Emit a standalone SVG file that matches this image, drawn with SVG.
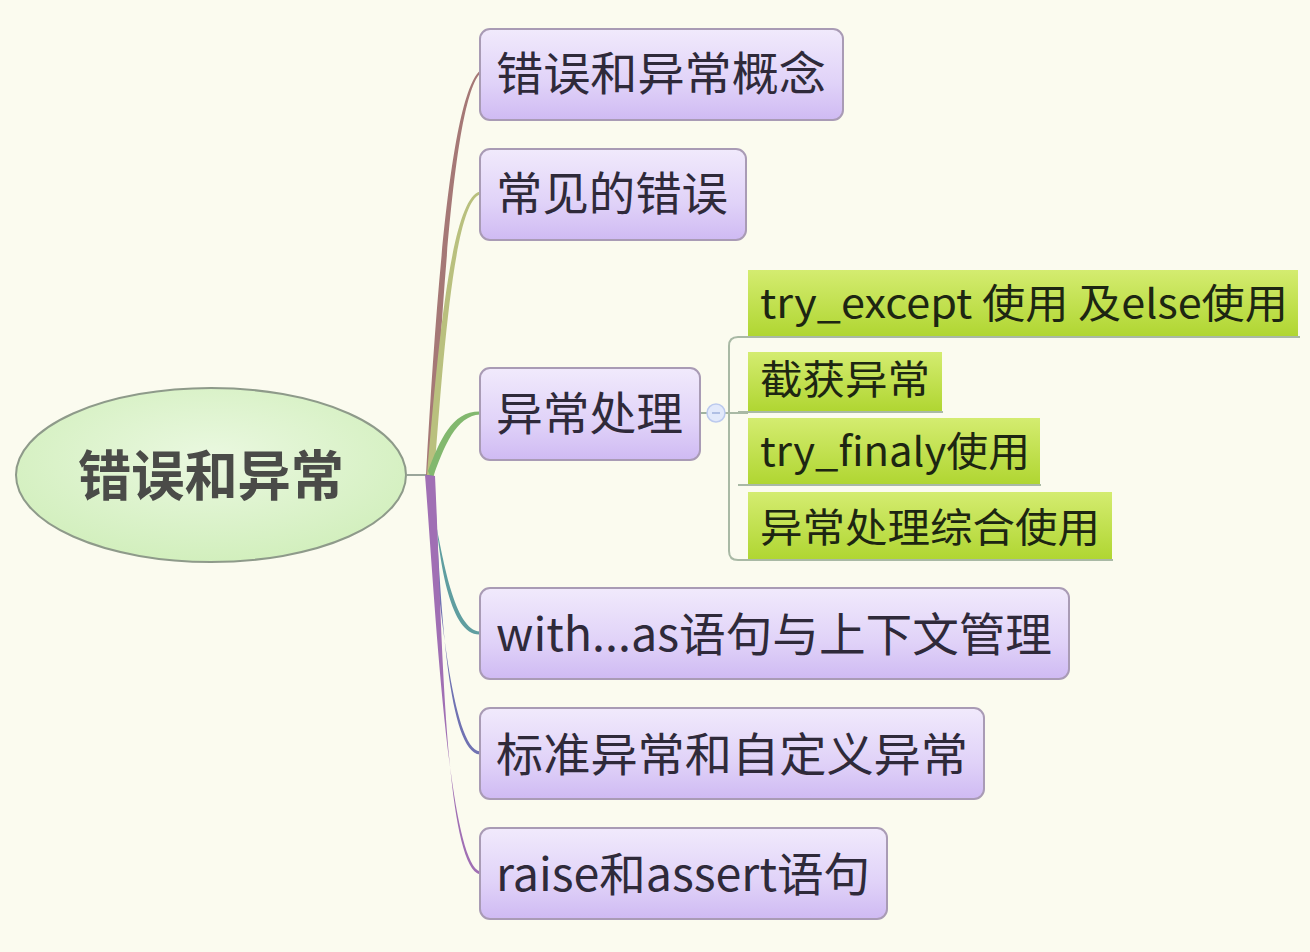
<svg xmlns="http://www.w3.org/2000/svg" width="1310" height="952" viewBox="0 0 1310 952">
<defs>
<linearGradient id="gP" x1="0" y1="0" x2="0" y2="1"><stop offset="0" stop-color="#f1eafc"/><stop offset="0.6" stop-color="#e0d2f8"/><stop offset="1" stop-color="#cfbaf3"/></linearGradient>
<linearGradient id="gG" x1="0" y1="0" x2="0" y2="1"><stop offset="0" stop-color="#d4ec70"/><stop offset="1" stop-color="#b0d632"/></linearGradient>
<radialGradient id="gC" cx="0.5" cy="0.4" r="0.6"><stop offset="0" stop-color="#eaf8e0"/><stop offset="1" stop-color="#d2efbd"/></radialGradient>
<style>
.pbox{fill:url(#gP);stroke:#a99bb5;stroke-width:2}
.gbox{fill:url(#gG)}
.ul{fill:none;stroke:#a9b9a5;stroke-width:2}
.t{font-family:"Noto Sans CJK SC","Noto Sans",sans-serif;font-size:46px;fill:#2f2a3a}
.s{font-family:"Noto Sans CJK SC","Noto Sans",sans-serif;font-size:40px;fill:#1d2612}
.c{font-family:"Noto Sans CJK SC","Noto Sans",sans-serif;font-size:54px;font-weight:bold;fill:#4a4b48}
</style>
</defs>
<rect width="1310" height="952" fill="#fbfbef"/>
<g id="connectors">
<line x1="407" y1="475" x2="430" y2="475" stroke="#9aa59a" stroke-width="2"/>
<path d="M426 475 C436 300 450 98 480 70.5 L480 73.5 C454 102 442 300 433 477 Z" fill="#a57876"/>
<path d="M427 475 C437 360 450 198 480 191.5 L480 194.5 C454 202 443 360 434 477 Z" fill="#b9c07e"/>
<path d="M428 471 C440 440 452 411 480 411.5 L480 414.5 C456 416 444 446 432 480 Z" fill="#82b86e"/>
<path d="M426 475 C438 520 448 630 480 631.5 L480 634.5 C446 636 436 540 433 478 Z" fill="#5f9ea0"/>
<path d="M426 475 C437 560 448 748 480 751.5 L480 754.5 C445 752 440 580 434 476 Z" fill="#7072b2"/>
<path d="M425 475 C435 600 448 862 480 871.5 L480 874.5 C444 866 442 620 435 476 Z" fill="#a06fb4"/>
<line x1="700" y1="413" x2="708" y2="413" stroke="#9fb2a0" stroke-width="2"/>
<path class="ul" d="M725 413 H748 M738 337 H1300 M738 412 H943 M738 485 H1041 M738 560 H1113 M738 337 Q729 337 729 346 V551 Q729 560 738 560"/>
</g>
<g id="root">
<ellipse cx="211" cy="475" rx="195" ry="87" fill="url(#gC)" stroke="#8e9a8a" stroke-width="2"/>
<text class="c" x="78" y="496" textLength="266" lengthAdjust="spacingAndGlyphs">错误和异常</text>
</g>
<g id="n1">
<rect class="pbox" x="480" y="29" width="363" height="91" rx="10"/>
<text class="t" x="496" y="90" textLength="330" lengthAdjust="spacingAndGlyphs">错误和异常概念</text>
</g>
<g id="n2">
<rect class="pbox" x="480" y="149" width="266" height="91" rx="10"/>
<text class="t" x="496" y="210" textLength="232" lengthAdjust="spacingAndGlyphs">常见的错误</text>
</g>
<g id="n3">
<rect class="pbox" x="480" y="368" width="220" height="92" rx="10"/>
<text class="t" x="496" y="430" textLength="187" lengthAdjust="spacingAndGlyphs">异常处理</text>
</g>
<g id="collapse">
<circle cx="716" cy="413" r="9" fill="#e2e9fb" stroke="#bccaee" stroke-width="1.5"/>
<line x1="712" y1="413" x2="720" y2="413" stroke="#9fb1dc" stroke-width="1.5"/>
</g>
<g id="s1">
<rect class="gbox" x="748" y="270" width="550" height="66"/>
<text class="s" x="760" y="318" textLength="528" lengthAdjust="spacingAndGlyphs">try_except 使用 及else使用</text>
</g>
<g id="s2">
<rect class="gbox" x="748" y="352" width="194" height="59"/>
<text class="s" x="760" y="394" textLength="170" lengthAdjust="spacingAndGlyphs">截获异常</text>
</g>
<g id="s3">
<rect class="gbox" x="748" y="418" width="292" height="66"/>
<text class="s" x="760" y="466" textLength="270" lengthAdjust="spacingAndGlyphs">try_finaly使用</text>
</g>
<g id="s4">
<rect class="gbox" x="748" y="492" width="364" height="67"/>
<text class="s" x="760" y="542" textLength="340" lengthAdjust="spacingAndGlyphs">异常处理综合使用</text>
</g>
<g id="n4">
<rect class="pbox" x="480" y="588" width="589" height="91" rx="10"/>
<text class="t" x="496" y="651" textLength="556" lengthAdjust="spacingAndGlyphs">with...as语句与上下文管理</text>
</g>
<g id="n5">
<rect class="pbox" x="480" y="708" width="504" height="91" rx="10"/>
<text class="t" x="496" y="771" textLength="472" lengthAdjust="spacingAndGlyphs">标准异常和自定义异常</text>
</g>
<g id="n6">
<rect class="pbox" x="480" y="828" width="407" height="91" rx="10"/>
<text class="t" x="496" y="891" textLength="374" lengthAdjust="spacingAndGlyphs">raise和assert语句</text>
</g>
</svg>
